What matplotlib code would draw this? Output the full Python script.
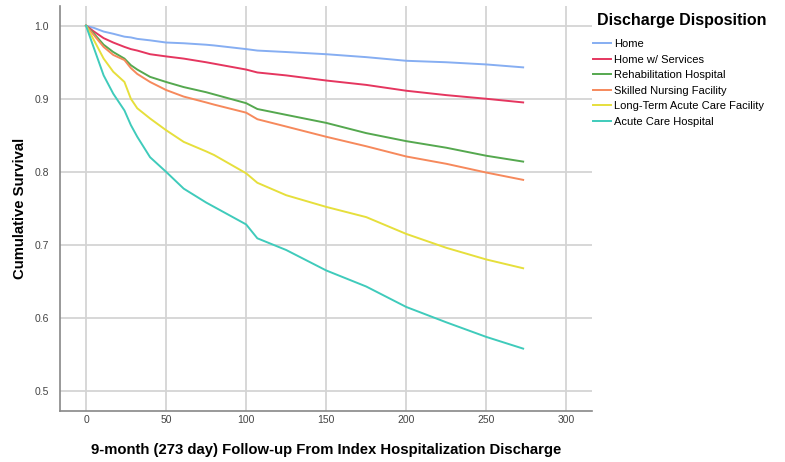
import numpy as np
import matplotlib
matplotlib.use("Agg")
import matplotlib.pyplot as plt

plt.rcParams['font.family'] = ['Liberation Sans', 'DejaVu Sans']

# follow-up day and cumulative survival
days = [0, 5, 11, 17, 24, 28, 32, 40, 50, 61, 75, 80, 100, 107, 125, 150, 175, 200, 225, 250, 273]

home = [1.0, 0.997, 0.992, 0.989, 0.985, 0.984, 0.982, 0.980, 0.977, 0.976, 0.974, 0.973, 0.968,
        0.966, 0.964, 0.961, 0.957, 0.952, 0.950, 0.947, 0.943]
home_services = [1.0, 0.992, 0.983, 0.977, 0.971, 0.968, 0.966, 0.961, 0.958, 0.955, 0.950, 0.948,
                 0.940, 0.936, 0.932, 0.925, 0.919, 0.911, 0.905, 0.900, 0.895]
rehab = [1.0, 0.989, 0.974, 0.964, 0.955, 0.946, 0.940, 0.930, 0.923, 0.916, 0.909, 0.906, 0.894,
         0.886, 0.878, 0.867, 0.853, 0.842, 0.833, 0.822, 0.814]
snf = [1.0, 0.987, 0.971, 0.960, 0.953, 0.942, 0.934, 0.923, 0.912, 0.903, 0.895, 0.892, 0.881,
       0.872, 0.862, 0.848, 0.835, 0.821, 0.811, 0.799, 0.789]
ltach = [1.0, 0.980, 0.955, 0.937, 0.923, 0.900, 0.887, 0.873, 0.857, 0.841, 0.828, 0.823, 0.798,
         0.785, 0.768, 0.752, 0.738, 0.715, 0.696, 0.680, 0.668]
ach = [1.0, 0.969, 0.932, 0.907, 0.884, 0.864, 0.848, 0.820, 0.800, 0.777, 0.758, 0.752, 0.728,
       0.709, 0.693, 0.665, 0.643, 0.615, 0.594, 0.574, 0.558]

labels = ["Home", "Home w/ Services", "Rehabilitation Hospital", "Skilled Nursing Facility",
          "Long-Term Acute Care Facility", "Acute Care Hospital"]
series = [home, home_services, rehab, snf, ltach, ach]
colors = ["#86aef2", "#e5365f", "#55a84f", "#f6895c", "#e6df3c", "#3fcbbb"]

fig = plt.figure(figsize=(7.85, 4.62), dpi=100)
ax = fig.add_axes([60/785, 1 - 411/462, (592 - 60)/785, (411 - 6)/462])

for vals, lab, col in zip(series, labels, colors):
    ax.plot(days, vals, color=col, lw=1.4, label=lab)

ax.set_xlim(-16.25, 316)
ax.set_ylim(0.4726, 1.027)
ax.set_xticks([0, 50, 100, 150, 200, 250, 300])
ax.set_yticks([0.5, 0.6, 0.7, 0.8, 0.9, 1.0])
ax.set_yticklabels(["0.5", "0.6", "0.7", "0.8", "0.9", "1.0"])
ax.grid(True, color="#d4d4d4", lw=1.3)
ax.set_axisbelow(True)
ax.tick_params(length=0, labelsize=7.5, labelcolor="#444444")
ax.tick_params(axis="x", pad=3)
ax.tick_params(axis="y", pad=8)
for s in ["top", "right"]:
    ax.spines[s].set_visible(False)
for s in ["left", "bottom"]:
    ax.spines[s].set_color("#888888")
    ax.spines[s].set_linewidth(1.2)

ax.set_xlabel("9-month (273 day) Follow-up From Index Hospitalization Discharge",
              fontsize=10.7, fontweight="bold", labelpad=13)
ax.set_ylabel("Cumulative Survival", fontsize=10.7, fontweight="bold", labelpad=5)

# legend title placed by hand, entries below it
fig.text(597/785, 1 - 20/462, "Discharge Disposition", fontsize=11.5, fontweight="bold",
         ha="left", va="center")
fig.legend(loc="upper left", bbox_to_anchor=(593/785, 1 - 39/462), frameon=False,
           fontsize=8, handlelength=1.6, handletextpad=0.3, labelspacing=0.5,
           borderaxespad=0, borderpad=0)

fig.savefig("out.png", dpi=100)
